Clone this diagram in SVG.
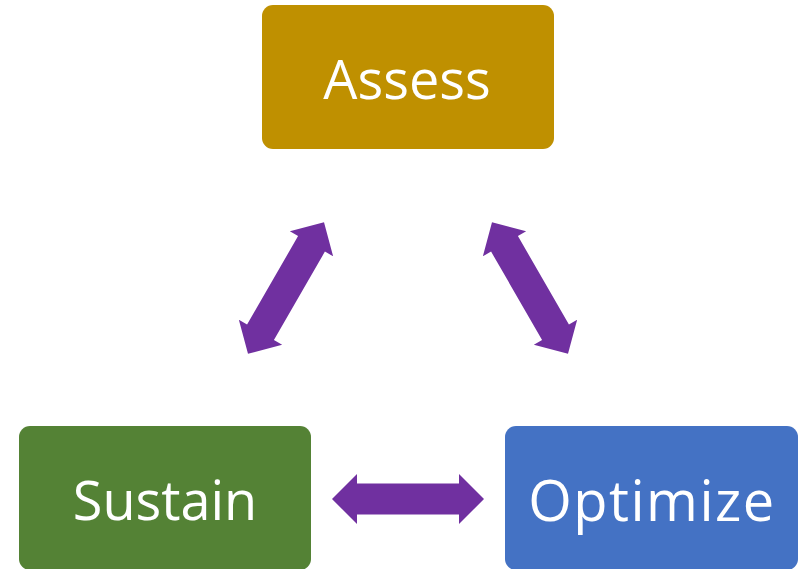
<svg xmlns="http://www.w3.org/2000/svg" width="811" height="569" viewBox="0 0 811 569">
<style>
.lbl{font-family:"Open Sans","Noto Sans","Liberation Sans",sans-serif;font-size:54px;fill:#ffffff;text-anchor:middle}
.opt{font-size:56px;font-weight:500;letter-spacing:1.5px}
.arr{fill:#7030A0}
</style>
<defs>
<path id="dbl" d="M-76,0 L-51,-25 L-51,-15.5 L51,-15.5 L51,-25 L76,0 L51,25 L51,15.5 L-51,15.5 L-51,25 Z"/>
</defs>
<rect width="811" height="569" fill="#ffffff"/>
<g id="connectors">
<use href="#dbl" class="arr" transform="translate(286,288) rotate(-60)"/>
<use href="#dbl" class="arr" transform="translate(530,288) rotate(60)"/>
<use href="#dbl" class="arr" transform="translate(408,499)"/>
</g>
<g id="assess">
<rect x="262" y="5" width="292" height="144" rx="11" fill="#BF9000"/>
<text class="lbl" x="407" y="99">Assess</text>
</g>
<g id="sustain">
<rect x="19" y="426" width="292" height="144" rx="11" fill="#548235"/>
<text class="lbl" x="165" y="520">Sustain</text>
</g>
<g id="optimize">
<rect x="505" y="426" width="293" height="144" rx="11" fill="#4472C4"/>
<text class="lbl opt" x="652" y="521">Optimize</text>
</g>
</svg>
